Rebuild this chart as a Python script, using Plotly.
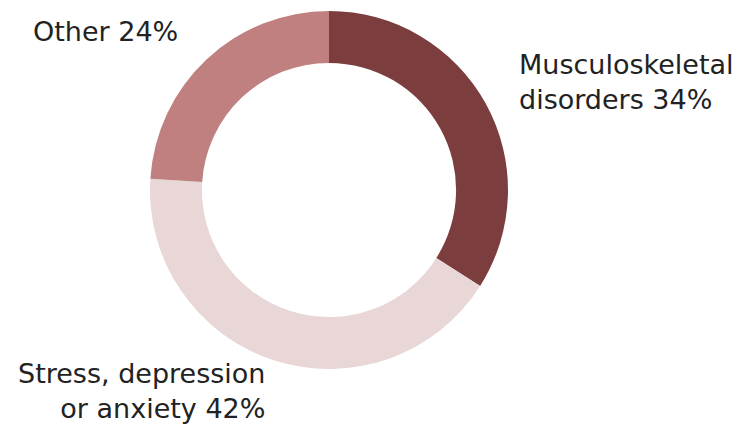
import plotly.graph_objects as go

# Causes of work-related ill health (share of cases)
labels = ["Musculoskeletal<br>disorders", "Stress, depression<br>or anxiety", "Other"]
values = [34, 42, 24]
colors = ["#7b3d3d", "#e9d6d7", "#bf807f"]

# Label placement (pixel anchor in the 742x426 canvas) and alignment per slice
label_px = [(517, 82), (267, 391), (180, 32)]
label_anchor = ["left", "right", "right"]

W, H = 742, 426
cx, cy, r = 329, 190, 179

fig = go.Figure(
    go.Pie(
        labels=labels,
        values=values,
        marker=dict(colors=colors, line=dict(width=0)),
        hole=0.71,
        sort=False,
        direction="clockwise",
        rotation=0,
        textinfo="none",
        hoverinfo="label+percent",
        domain=dict(
            x=[(cx - r) / W, (cx + r) / W],
            y=[1 - (cy + r) / H, 1 - (cy - r) / H],
        ),
        showlegend=False,
    )
)

for lab, val, (px, py), anc in zip(labels, values, label_px, label_anchor):
    fig.add_annotation(
        text=f"{lab} {val}%",
        x=px / W,
        y=1 - py / H,
        xref="paper",
        yref="paper",
        xanchor=anc,
        yanchor="middle",
        align=anc,
        showarrow=False,
        font=dict(family="DejaVu Sans", size=27, color="#222222"),
    )

fig.update_layout(
    width=W,
    height=H,
    margin=dict(l=0, r=0, t=0, b=0),
    paper_bgcolor="white",
    plot_bgcolor="white",
)

fig.write_html("out.html")
